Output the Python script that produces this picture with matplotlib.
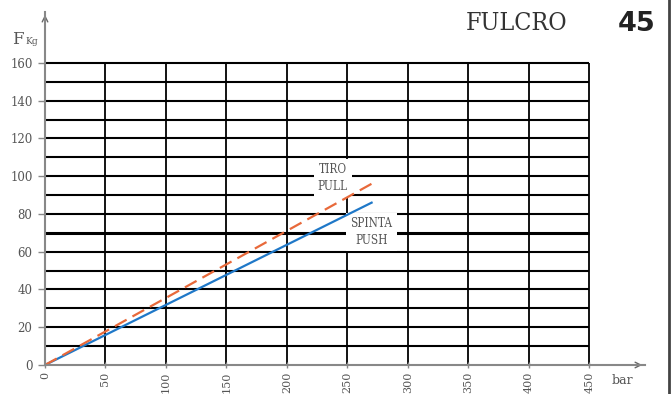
import matplotlib
matplotlib.use("Agg")
import matplotlib.pyplot as plt

# data
pressure_bar = [0, 270]
push_kg = [0, 86]
pull_kg = [0, 96]
x_ticks = [0, 50, 100, 150, 200, 250, 300, 350, 400, 450]
y_ticks = [0, 20, 40, 60, 80, 100, 120, 140, 160]
y_grid = [10, 20, 30, 40, 50, 60, 70, 80, 90, 100, 110, 120, 130, 140, 150, 160]

SERIF = ["DejaVu Serif", "Liberation Serif"]
GRAY = "#555555"

fig = plt.figure(figsize=(6.72, 3.94), dpi=100)
ax = fig.add_axes([45/672, 29/394, 600/672, 353/394])
ax.set_xlim(0, 496)
ax.set_ylim(0, 187)

# grid
for y in y_grid:
    ax.plot([0, x_ticks[-1]], [y, y], color="black", lw=2.2 if y == 70 else 1.5,
            solid_capstyle="butt", zorder=1)
for x in x_ticks[1:]:
    ax.plot([x, x], [0, y_ticks[-1]], color="black", lw=1.3,
            solid_capstyle="butt", zorder=1)

# series
ax.plot(pressure_bar, push_kg, color="#1f78c8", lw=1.6, zorder=3)
ax.plot(pressure_bar, pull_kg, color="#e8693a", lw=1.6, ls=(0, (6, 3)), zorder=3)

# labels with white backgrounds
ax.text(238, 99, "TIRO\nPULL", ha="center", va="center", fontsize=8.5,
        family=SERIF, fontstretch="condensed", color=GRAY, linespacing=1.4,
        bbox=dict(facecolor="white", edgecolor="none", pad=3), zorder=2)
ax.text(270, 70.5, "SPINTA\nPUSH", ha="center", va="center", fontsize=8.5,
        family=SERIF, fontstretch="condensed", color=GRAY, linespacing=1.4,
        bbox=dict(facecolor="white", edgecolor="none", pad=3), zorder=2)

# axes styling
for s in ["top", "right"]:
    ax.spines[s].set_visible(False)
for s in ["left", "bottom"]:
    ax.spines[s].set_color("#888888")
    ax.spines[s].set_linewidth(1.5)
    ax.spines[s].set_zorder(4)

ax.set_yticks(y_ticks)
ax.set_yticklabels([str(v) for v in y_ticks], family=SERIF, fontsize=8.5, color=GRAY)
ax.set_xticks(x_ticks)
ax.set_xticklabels([str(v) for v in x_ticks], family=SERIF, fontsize=8, color=GRAY,
                   rotation=90)
ax.tick_params(axis="y", length=5, width=1, color="#888888", pad=4)
ax.tick_params(axis="x", length=4, width=1, color="#888888", pad=3, direction="inout")

# arrows
ax.annotate("", xy=(496, 0), xytext=(485, 0),
            arrowprops=dict(arrowstyle="->", color="#666666", lw=1), annotation_clip=False)
ax.annotate("", xy=(0, 187), xytext=(0, 178),
            arrowprops=dict(arrowstyle="->", color="#666666", lw=1), annotation_clip=False)

# axis titles
fig.text(12/672, 1 - 40/394, "F", family=SERIF, fontsize=12, color=GRAY, va="center")
fig.text(25/672, 1 - 41/394, "Kg", family=SERIF, fontsize=6.5, color=GRAY, va="center")
fig.text(612/672, 1 - 380/394, "bar", family=SERIF, fontsize=9, color=GRAY, va="center")

# header
fig.text(517/672, 1 - 24/394, "FULCRO", family=SERIF, fontstretch="condensed",
         fontsize=18, color="#333333", ha="center", va="center")
fig.text(637/672, 1 - 24/394, "45", family=["DejaVu Sans"],
         fontweight="bold", fontsize=19.5, color="#222222", ha="center", va="center")

# right border
fig.add_artist(plt.Line2D([669/672, 669/672], [0, 1], color="#444444", lw=2,
                          transform=fig.transFigure))

fig.savefig("out.png", dpi=100)
